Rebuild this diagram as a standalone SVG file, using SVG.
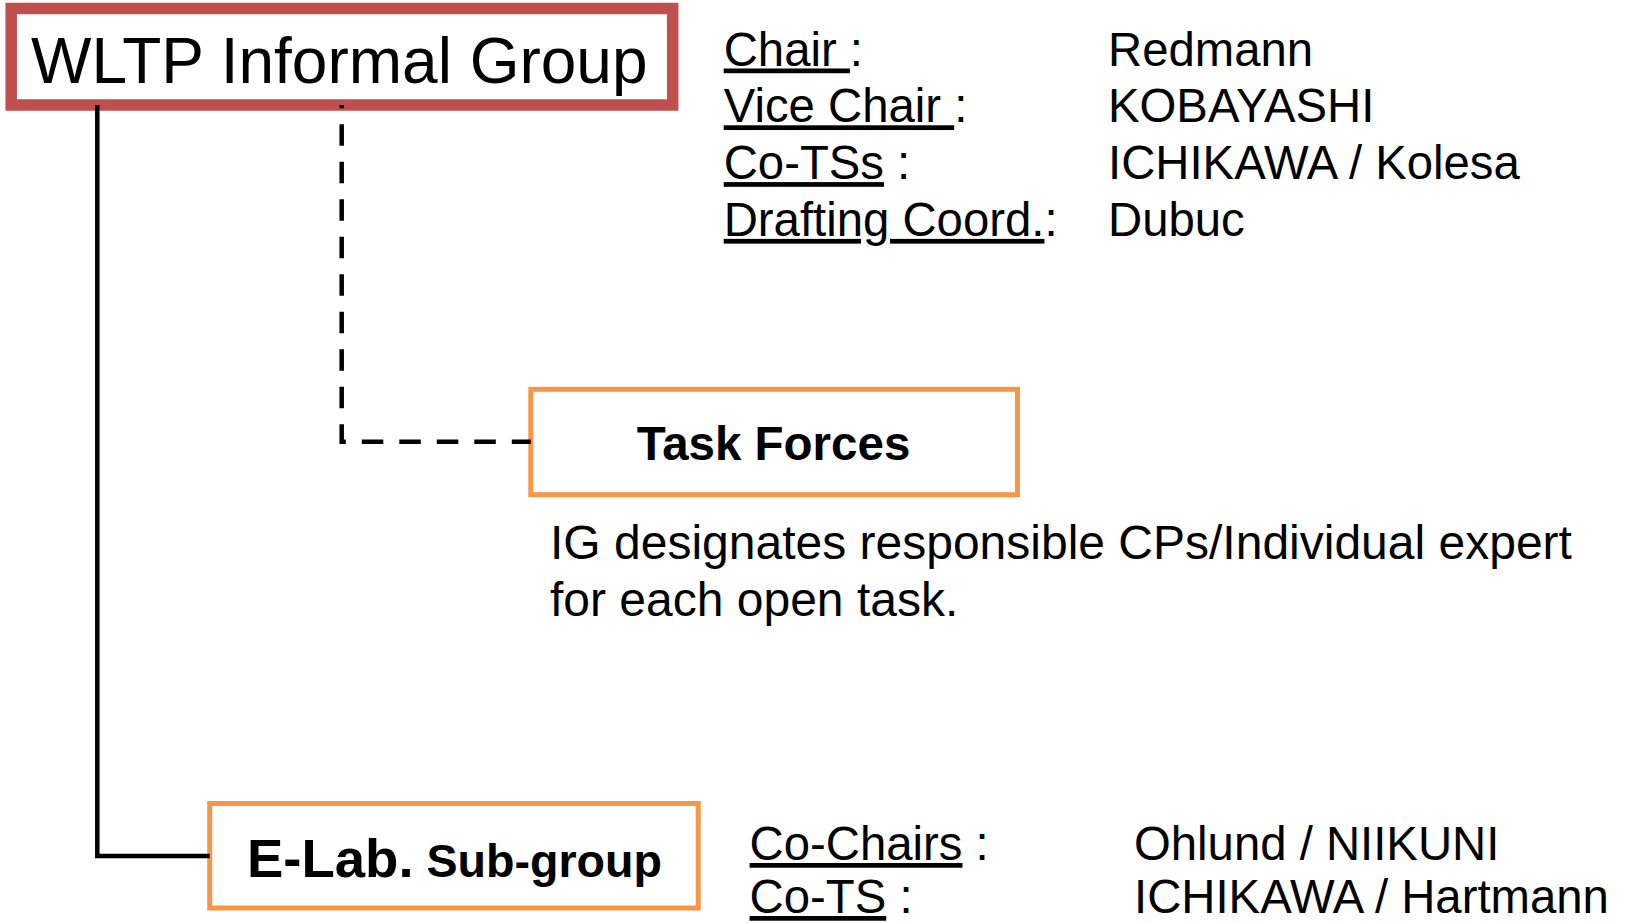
<svg xmlns="http://www.w3.org/2000/svg" width="1628" height="923" viewBox="0 0 1628 923">
  <style>
    text { font-family: "Liberation Sans", Arial, Helvetica, sans-serif; fill: #000; }
    .ig { fill: #FFFFFF; stroke: #C0504D; stroke-width: 11.5; }
    .sub { fill: #FFFFFF; stroke: #F79646; stroke-width: 5; }
    .info { font-size: 47.3px; }
    .u { text-decoration: underline; }
    .bold { font-weight: bold; }
    .conn { fill: none; stroke: #000; stroke-width: 4.5; stroke-linejoin: miter; }
  </style>
  <rect width="1628" height="923" fill="#FFFFFF"/>

  <g id="node-wltp">
    <rect class="ig" x="11.2" y="8.5" width="661.5" height="96.5"/>
    <text x="31" y="83" font-size="64">WLTP Informal Group</text>
  </g>

  <g id="node-wltp-officers">
    <text class="info" x="723.7" y="65.5"><tspan class="u">Chair </tspan>:</text>
    <text class="info" x="723.7" y="122.3"><tspan class="u">Vice Chair </tspan>:</text>
    <text class="info" x="723.7" y="179.1"><tspan class="u">Co-TSs</tspan> :</text>
    <text class="info" x="723.7" y="235.9"><tspan class="u">Drafting Coord.</tspan>:</text>
    <text class="info" x="1108" y="65.5">Redmann</text>
    <text class="info" x="1108" y="122.3">KOBAYASHI</text>
    <text class="info" x="1108" y="179.1">ICHIKAWA / Kolesa</text>
    <text class="info" x="1108" y="235.9">Dubuc</text>
  </g>

  <g id="node-task-forces">
    <rect class="sub" x="530.8" y="389.3" width="486.7" height="105.4"/>
    <text class="bold" x="773.5" y="460" font-size="47.5" text-anchor="middle">Task Forces</text>
  </g>

  <g id="node-task-forces-note">
    <text x="550" y="558.6" font-size="48">IG designates responsible CPs/Individual expert</text>
    <text x="550" y="615.6" font-size="48">for each open task.</text>
  </g>

  <g id="node-elab">
    <rect class="sub" x="209.7" y="803.5" width="488.5" height="104.5"/>
    <text class="bold" x="247" y="877"><tspan font-size="54.5">E-Lab.</tspan><tspan font-size="46.6"> Sub-group</tspan></text>
  </g>

  <g id="node-elab-officers">
    <text class="info" x="749.6" y="860"><tspan class="u">Co-Chairs</tspan> :</text>
    <text class="info" x="749.6" y="913"><tspan class="u">Co-TS</tspan> :</text>
    <text class="info" x="1134" y="860">Ohlund / NIIKUNI</text>
    <text class="info" x="1134" y="913">ICHIKAWA / Hartmann</text>
  </g>

  <g id="connectors">
    <path class="conn" d="M97.3,105 V856 H209.7"/>
    <path class="conn" d="M341.7,105 V441.7 H530.8" stroke-dasharray="21.5 16" stroke-dashoffset="18.2"/>
  </g>
</svg>
